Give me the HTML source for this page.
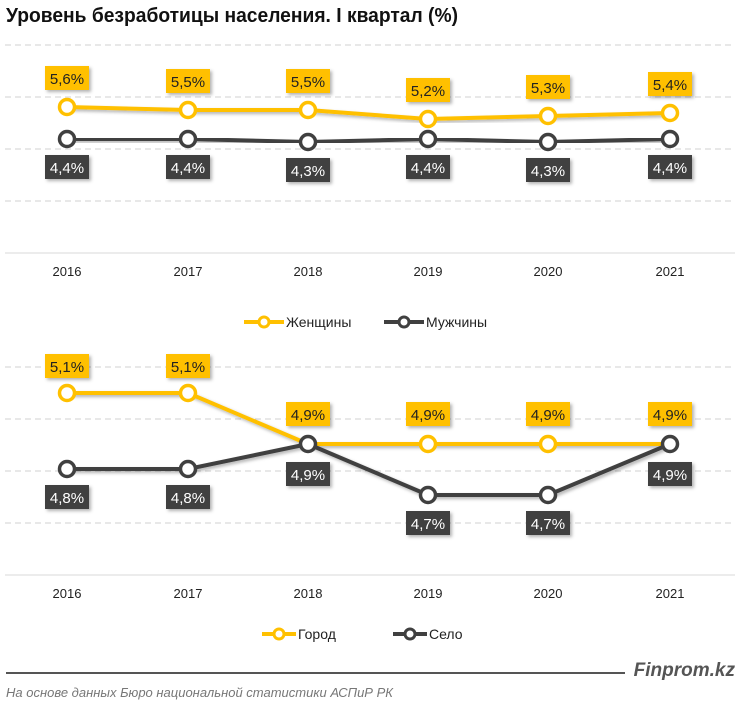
<!DOCTYPE html>
<html><head><meta charset="utf-8"><style>
html,body{margin:0;padding:0;background:#fff;width:740px;height:713px;overflow:hidden}
svg{display:block}
text{font-family:"Liberation Sans",sans-serif}
</style></head><body>
<svg width="740" height="713" viewBox="0 0 740 713" xmlns="http://www.w3.org/2000/svg">
<defs><filter id="sh" x="-20%" y="-20%" width="150%" height="150%"><feDropShadow dx="2" dy="2" stdDeviation="1.5" flood-color="#000" flood-opacity="0.3"/></filter></defs>
<text x="6" y="22" font-size="20" font-weight="bold" fill="#111" textLength="452" lengthAdjust="spacingAndGlyphs">Уровень безработицы населения. I квартал (%)</text>
<g stroke="#d0d0d0" stroke-width="1" stroke-dasharray="6,4">
<line x1="5" y1="45" x2="735" y2="45"/><line x1="5" y1="97" x2="735" y2="97"/><line x1="5" y1="149" x2="735" y2="149"/><line x1="5" y1="201" x2="735" y2="201"/>
<line x1="5" y1="367" x2="735" y2="367"/><line x1="5" y1="419" x2="735" y2="419"/><line x1="5" y1="471" x2="735" y2="471"/><line x1="5" y1="523" x2="735" y2="523"/>
</g>
<line x1="5" y1="253" x2="735" y2="253" stroke="#d9d9d9"/>
<line x1="5" y1="575" x2="735" y2="575" stroke="#d9d9d9"/>
<g font-size="13" fill="#222" text-anchor="middle">
<text x="67" y="276">2016</text><text x="188" y="276">2017</text><text x="308" y="276">2018</text><text x="428" y="276">2019</text><text x="548" y="276">2020</text><text x="670" y="276">2021</text>
<text x="67" y="598">2016</text><text x="188" y="598">2017</text><text x="308" y="598">2018</text><text x="428" y="598">2019</text><text x="548" y="598">2020</text><text x="670" y="598">2021</text>
</g>
<polyline points="67,107 188,110 308,110 428,119 548,116 670,113" fill="none" stroke="#FFC000" stroke-width="4" filter="url(#sh)"/>
<polyline points="67,139 188,139 308,142 428,139 548,142 670,139" fill="none" stroke="#404040" stroke-width="4" filter="url(#sh)"/>
<g fill="#fff" stroke="#FFC000" stroke-width="3.5">
<circle cx="67" cy="107" r="7.5"/><circle cx="188" cy="110" r="7.5"/><circle cx="308" cy="110" r="7.5"/><circle cx="428" cy="119" r="7.5"/><circle cx="548" cy="116" r="7.5"/><circle cx="670" cy="113" r="7.5"/>
</g>
<g fill="#fff" stroke="#404040" stroke-width="3.5">
<circle cx="67" cy="139" r="7.5"/><circle cx="188" cy="139" r="7.5"/><circle cx="308" cy="142" r="7.5"/><circle cx="428" cy="139" r="7.5"/><circle cx="548" cy="142" r="7.5"/><circle cx="670" cy="139" r="7.5"/>
</g>
<g font-size="15" text-anchor="middle">
<g fill="#FFC000" filter="url(#sh)">
<rect x="45" y="66" width="44" height="24"/><rect x="166" y="69" width="44" height="24"/><rect x="286" y="69" width="44" height="24"/><rect x="406" y="78" width="44" height="24"/><rect x="526" y="75" width="44" height="24"/><rect x="648" y="72" width="44" height="24"/>
</g>
<g fill="#222">
<text x="67" y="84">5,6%</text><text x="188" y="87">5,5%</text><text x="308" y="87">5,5%</text><text x="428" y="96">5,2%</text><text x="548" y="93">5,3%</text><text x="670" y="90">5,4%</text>
</g>
<g fill="#404040" filter="url(#sh)">
<rect x="45" y="155" width="44" height="24"/><rect x="166" y="155" width="44" height="24"/><rect x="286" y="158" width="44" height="24"/><rect x="406" y="155" width="44" height="24"/><rect x="526" y="158" width="44" height="24"/><rect x="648" y="155" width="44" height="24"/>
</g>
<g fill="#fff">
<text x="67" y="173">4,4%</text><text x="188" y="173">4,4%</text><text x="308" y="176">4,3%</text><text x="428" y="173">4,4%</text><text x="548" y="176">4,3%</text><text x="670" y="173">4,4%</text>
</g>
</g>
<line x1="244" y1="322" x2="284" y2="322" stroke="#FFC000" stroke-width="4"/><circle cx="264" cy="322" r="5" fill="#fff" stroke="#FFC000" stroke-width="3"/>
<text x="286" y="327" font-size="14" fill="#222">Женщины</text>
<line x1="384" y1="322" x2="424" y2="322" stroke="#404040" stroke-width="4"/><circle cx="404" cy="322" r="5" fill="#fff" stroke="#404040" stroke-width="3"/>
<text x="426" y="327" font-size="14" fill="#222">Мужчины</text>
<polyline points="67,393 188,393 308,444 428,444 548,444 670,444" fill="none" stroke="#FFC000" stroke-width="4" filter="url(#sh)"/>
<polyline points="67,469 188,469 308,444 428,495 548,495 670,444" fill="none" stroke="#404040" stroke-width="4" filter="url(#sh)"/>
<g fill="#fff" stroke="#FFC000" stroke-width="3.5">
<circle cx="67" cy="393" r="7.5"/><circle cx="188" cy="393" r="7.5"/><circle cx="428" cy="444" r="7.5"/><circle cx="548" cy="444" r="7.5"/>
</g>
<g fill="#fff" stroke="#404040" stroke-width="3.5">
<circle cx="67" cy="469" r="7.5"/><circle cx="188" cy="469" r="7.5"/><circle cx="308" cy="444" r="7.5"/><circle cx="428" cy="495" r="7.5"/><circle cx="548" cy="495" r="7.5"/><circle cx="670" cy="444" r="7.5"/>
</g>
<g font-size="15" text-anchor="middle">
<g fill="#FFC000" filter="url(#sh)">
<rect x="45" y="354" width="44" height="24"/><rect x="166" y="354" width="44" height="24"/><rect x="286" y="402" width="44" height="24"/><rect x="406" y="402" width="44" height="24"/><rect x="526" y="402" width="44" height="24"/><rect x="648" y="402" width="44" height="24"/>
</g>
<g fill="#222">
<text x="67" y="372">5,1%</text><text x="188" y="372">5,1%</text><text x="308" y="420">4,9%</text><text x="428" y="420">4,9%</text><text x="548" y="420">4,9%</text><text x="670" y="420">4,9%</text>
</g>
<g fill="#404040" filter="url(#sh)">
<rect x="45" y="485" width="44" height="24"/><rect x="166" y="485" width="44" height="24"/><rect x="286" y="462" width="44" height="24"/><rect x="406" y="511" width="44" height="24"/><rect x="526" y="511" width="44" height="24"/><rect x="648" y="462" width="44" height="24"/>
</g>
<g fill="#fff">
<text x="67" y="503">4,8%</text><text x="188" y="503">4,8%</text><text x="308" y="480">4,9%</text><text x="428" y="529">4,7%</text><text x="548" y="529">4,7%</text><text x="670" y="480">4,9%</text>
</g>
</g>
<line x1="262" y1="634" x2="296" y2="634" stroke="#FFC000" stroke-width="4"/><circle cx="279" cy="634" r="5" fill="#fff" stroke="#FFC000" stroke-width="3"/>
<text x="298" y="639" font-size="14" fill="#222">Город</text>
<line x1="393" y1="634" x2="427" y2="634" stroke="#404040" stroke-width="4"/><circle cx="410" cy="634" r="5" fill="#fff" stroke="#404040" stroke-width="3"/>
<text x="429" y="639" font-size="14" fill="#222">Село</text>
<line x1="6" y1="673" x2="625" y2="673" stroke="#555" stroke-width="2"/>
<text x="735" y="676" font-size="19" font-weight="bold" font-style="italic" fill="#555" text-anchor="end">Finprom.kz</text>
<text x="6" y="697" font-size="13" font-style="italic" fill="#777">На основе данных  Бюро национальной  статистики АСПиР РК</text>
</svg>
</body></html>
